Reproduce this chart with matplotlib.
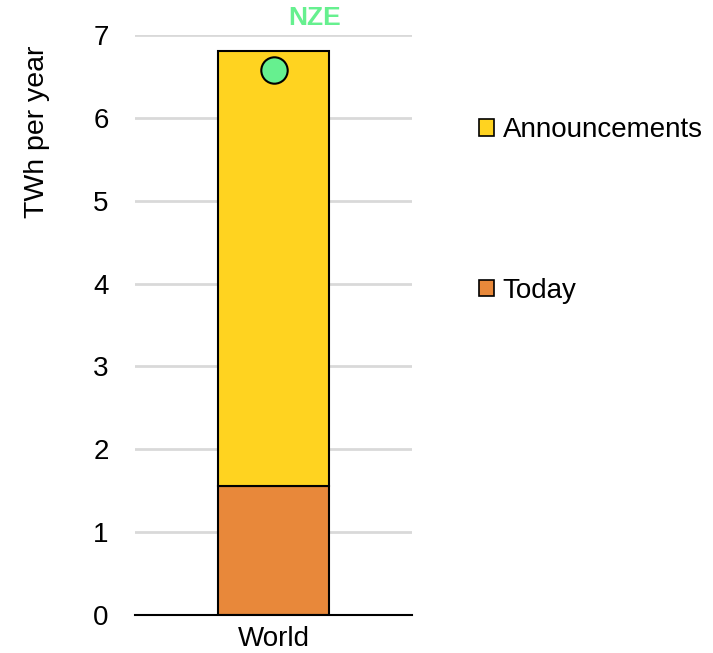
import matplotlib
matplotlib.use("Agg")
import matplotlib.pyplot as plt
from matplotlib.patches import Patch

plt.rcParams['font.family'] = ['Liberation Sans', 'DejaVu Sans']

# data
categories = ["World"]
today = [1.56]
announcements = [5.25]
nze = [6.58]

col_today = "#E8883A"
col_ann = "#FFD320"
col_nze = "#66F08F"

fig = plt.figure(figsize=(7.13, 6.53), dpi=100)
ax = fig.add_axes([135/713, 38/653, 277/713, 580/653])

x = list(range(len(categories)))
ax.bar(x, today, width=0.4, color=col_today, edgecolor="black", linewidth=1.5, zorder=3)
ax.bar(x, announcements, bottom=today, width=0.4, color=col_ann, edgecolor="black",
       linewidth=1.5, zorder=3)
ax.plot(x, nze, "o", markersize=19, markerfacecolor=col_nze, markeredgecolor="black",
        markeredgewidth=1.5, zorder=4)
ax.text(0.15, 7.2, "NZE", color=col_nze, fontsize=19, fontweight="bold",
        ha="center", va="center", clip_on=False)

ax.set_xlim(-0.5, 0.5)
ax.set_ylim(0, 7)
ax.set_yticks(range(0, 8))
ax.set_xticks(x)
ax.set_xticklabels(categories)
ax.yaxis.grid(True, color="#D9D9D9", linewidth=2)
ax.set_axisbelow(True)
for s in ["top", "right", "left"]:
    ax.spines[s].set_visible(False)
ax.spines["bottom"].set_linewidth(1.5)
ax.spines["bottom"].set_zorder(5)
ax.tick_params(axis="both", length=0, labelsize=20)
ax.tick_params(axis="y", pad=19)
ax.tick_params(axis="x", pad=8)

fig.text(37/713, 1 - 132/653, "TWh per year", rotation=90, fontsize=20.5,
         ha="center", va="center")

handles = [Patch(facecolor=col_ann, edgecolor="black", linewidth=1.2),
           Patch(facecolor=col_today, edgecolor="black", linewidth=1.2)]
fig.legend(handles, ["Announcements", "Today"], loc="upper left",
           bbox_to_anchor=(479/713, 1 - 117/653), frameon=False, fontsize=20,
           handlelength=0.55, handleheight=0.55, handletextpad=0.3,
           labelspacing=4.85, borderaxespad=0, borderpad=0)

fig.savefig("out.png", dpi=100)
